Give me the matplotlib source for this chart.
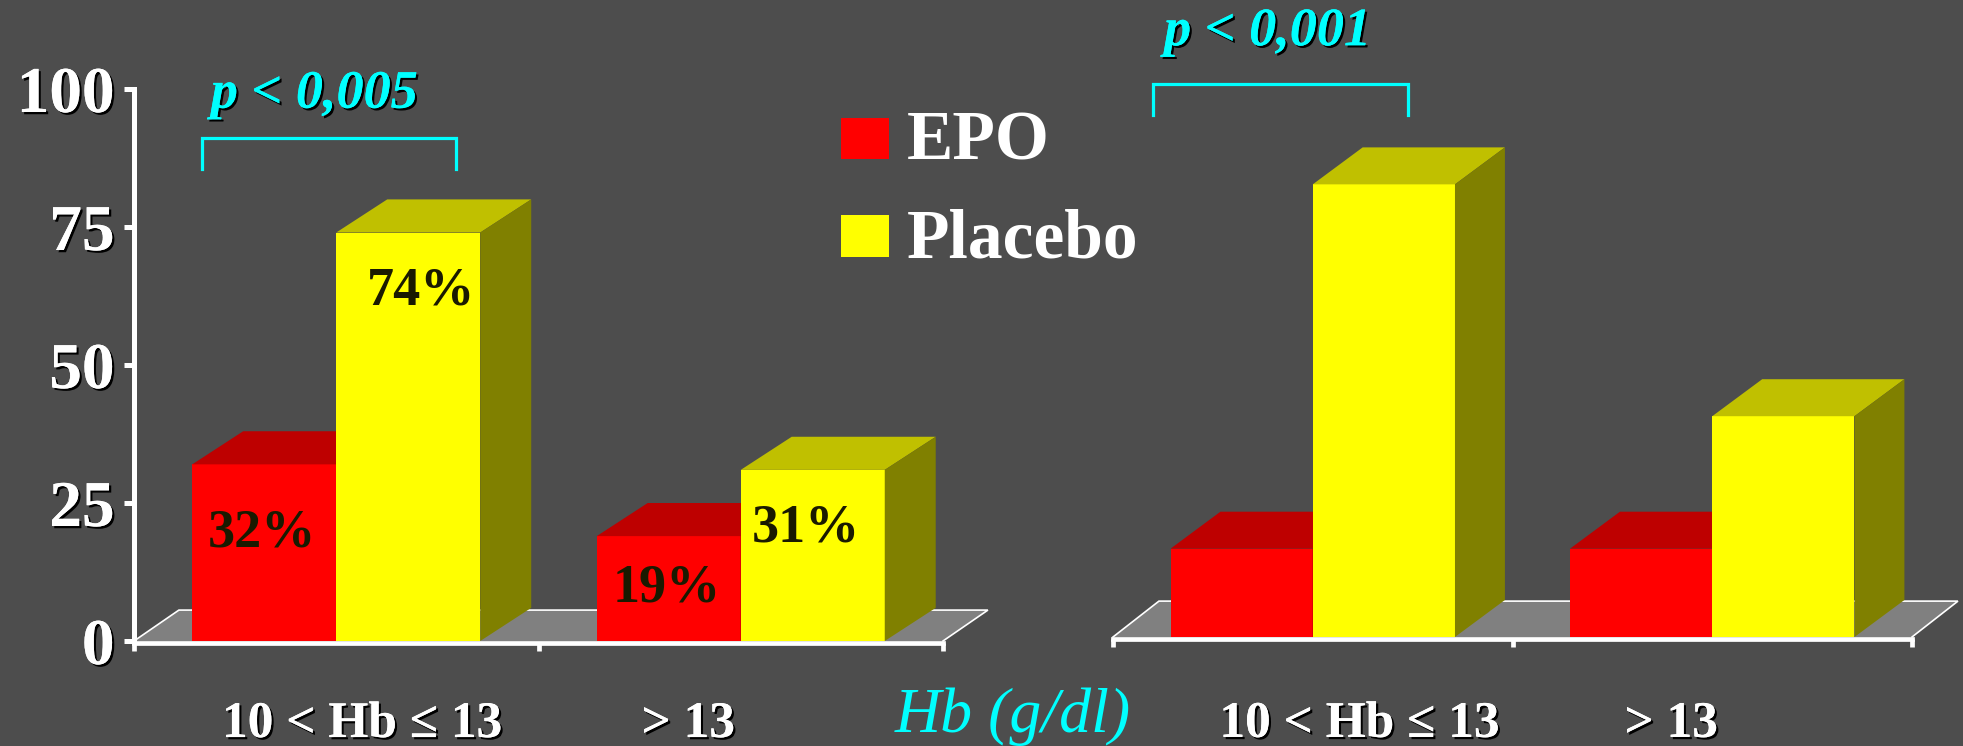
import matplotlib
matplotlib.use("Agg")
import matplotlib.pyplot as plt
from matplotlib.patches import Polygon, Rectangle
import matplotlib.patheffects as pe

# ---- data -------------------------------------------------------------
categories = ["10 < Hb ≤ 13", "> 13"]
series_names = ["EPO", "Placebo"]
left_epo = [32, 19]
left_placebo = [74, 31]
right_epo = [16, 16]
right_placebo = [82, 40]
y_ticks = [0, 25, 50, 75, 100]
p_left = "p < 0,005"
p_right = "p < 0,001"
x_title = "Hb (g/dl)"

# ---- style ------------------------------------------------------------
W, H = 1963, 746
BG = "#4D4D4D"
RED, RED_TOP, RED_SIDE = "#FF0000", "#BE0000", "#800000"
YEL, YEL_TOP, YEL_SIDE = "#FFFF00", "#C0C000", "#808000"
FLOOR = "#808080"
CYAN = "#00FFFF"
SERIF = ["Liberation Serif", "DejaVu Serif"]
BAR_W = 0.356
shadow = [pe.withSimplePatchShadow(offset=(1.6, -1.6), shadow_rgbFace="black", alpha=1.0),
          pe.Normal()]

plt.rcParams["font.family"] = SERIF

fig = plt.figure(figsize=(W / 100, H / 100), dpi=100, facecolor=BG)


def make_axes(x0_px, x1_px, zero_px, show_y):
    ax = fig.add_axes([x0_px / W, (H - zero_px) / H, (x1_px - x0_px) / W, 552 / H])
    ax.set_facecolor("none")
    ax.set_xlim(0, 2)
    ax.set_ylim(0, 100)
    for s in ("top", "right"):
        ax.spines[s].set_visible(False)
    ax.spines["bottom"].set_color("white")
    ax.spines["bottom"].set_linewidth(3.4)
    ax.spines["bottom"].set_position(("outward", 1.5))
    ax.spines["bottom"].set_zorder(6)
    ax.set_xticks([0, 1, 2])
    ax.set_xticklabels([])
    ax.tick_params(axis="x", direction="out", length=6, width=3.4, color="white")
    if show_y:
        ax.spines["left"].set_color("white")
        ax.spines["left"].set_linewidth(3.6)
        ax.set_yticks(y_ticks)
        ax.set_yticklabels([str(t) for t in y_ticks])
        ax.tick_params(axis="y", direction="out", length=7, width=3.6, color="white",
                       labelcolor="white", labelsize=47, pad=7)
        for lbl in ax.get_yticklabels():
            lbl.set_fontweight("bold")
            lbl.set_path_effects(shadow)
    else:
        ax.spines["left"].set_visible(False)
        ax.set_yticks([])
    return ax


def draw_floor(ax, fdx, fdy):
    ax.add_patch(Polygon([(0, 0), (2, 0), (2 + fdx, fdy), (fdx, fdy)],
                         closed=True, facecolor=FLOOR, edgecolor="none",
                         clip_on=False, zorder=1))
    ax.plot([0, fdx, 2 + fdx, 2], [0, fdy, fdy, 0], color="white", lw=1.2,
            clip_on=False, zorder=1.5, solid_joinstyle="miter")


def draw_boxes(ax, xs, values, front, top, side, bdx, bdy, z):
    bars = ax.bar(xs, values, width=BAR_W, align="edge", color=front,
                  edgecolor="none", zorder=z, clip_on=False)
    for r in bars:
        x0, x1, h = r.get_x(), r.get_x() + r.get_width(), r.get_height()
        ax.add_patch(Polygon([(x0, h), (x0 + bdx, h + bdy), (x1 + bdx, h + bdy), (x1, h)],
                             closed=True, facecolor=top, edgecolor="none",
                             clip_on=False, zorder=z))
        ax.add_patch(Polygon([(x1, 0), (x1 + bdx, bdy), (x1 + bdx, h + bdy), (x1, h)],
                             closed=True, facecolor=side, edgecolor="none",
                             clip_on=False, zorder=z))
    return bars


def draw_bracket(ax, x0, x1, yb, yt, label, tx, ty):
    ax.plot([x0, x0, x1, x1], [yb, yt, yt, yb], color=CYAN, lw=2.3,
            clip_on=False, zorder=5, solid_joinstyle="miter")
    ax.text(tx, ty, label, color=CYAN, fontsize=39, fontweight="bold",
            fontstyle="italic", ha="left", va="baseline", path_effects=shadow,
            clip_on=False, zorder=5)


def draw_categories(ax, positions, y):
    for x, c in zip(positions, categories):
        ax.text(x, y, c, color="white", fontsize=37, fontweight="bold",
                ha="center", va="baseline", path_effects=shadow, clip_on=False)


# ---- left panel -------------------------------------------------------
axL = make_axes(134, 943, 641, True)
draw_floor(axL, 0.111, 5.6)
red_x = [i + 0.5 - BAR_W for i in range(len(categories))]
yel_x = [i + 0.5 for i in range(len(categories))]
barsL_red = draw_boxes(axL, red_x, left_epo, RED, RED_TOP, RED_SIDE, 0.126, 6.0, 3)
barsL_yel = draw_boxes(axL, yel_x, left_placebo, YEL, YEL_TOP, YEL_SIDE, 0.126, 6.0, 4)

label_offsets = [[(-1.5, -59.5), (-1.5, -46.8)], [(9.4, -51.5), (-5.0, -51.8)]]
for bars, offs in zip([barsL_red, barsL_yel], label_offsets):
    for r, off in zip(bars, offs):
        axL.annotate(f"{r.get_height():g}%",
                     xy=(r.get_x() + r.get_width() / 2, r.get_height()),
                     xytext=off, textcoords="offset points", ha="center",
                     va="baseline", fontsize=39, fontweight="bold",
                     color="#1A1A00", zorder=7)

draw_bracket(axL, 0.168, 0.796, 85.5, 91.1, p_left, 0.19, 96.6)
draw_categories(axL, [0.564, 1.370], -17.4)

# ---- right panel ------------------------------------------------------
axR = make_axes(1113, 1912, 637, False)
draw_floor(axR, 0.115, 6.5)
draw_boxes(axR, red_x, right_epo, RED, RED_TOP, RED_SIDE, 0.125, 6.7, 3)
draw_boxes(axR, yel_x, right_placebo, YEL, YEL_TOP, YEL_SIDE, 0.125, 6.7, 4)
draw_bracket(axR, 0.100, 0.738, 94.6, 100.2, p_right, 0.128, 107.2)
draw_categories(axR, [0.617, 1.397], -18.1)

# ---- legend -----------------------------------------------------------
legend_rows = [(RED, 118, 159, 160), (YEL, 215, 257, 257)]
for (color, top_px, bot_px, base_px), name in zip(legend_rows, series_names):
    fig.patches.append(Rectangle((841 / W, (H - bot_px) / H), 48 / W,
                                 (bot_px - top_px) / H, transform=fig.transFigure,
                                 facecolor=color, edgecolor="none", figure=fig))
    fig.text(907 / W, (H - base_px) / H, name, color="white", fontsize=50,
             fontweight="bold", ha="left", va="baseline")

# ---- axis title -------------------------------------------------------
fig.text(895 / W, (H - 732) / H, x_title, color=CYAN, fontsize=46,
         fontstyle="italic", ha="left", va="baseline")

fig.savefig("out.png", dpi=100, facecolor=BG)
